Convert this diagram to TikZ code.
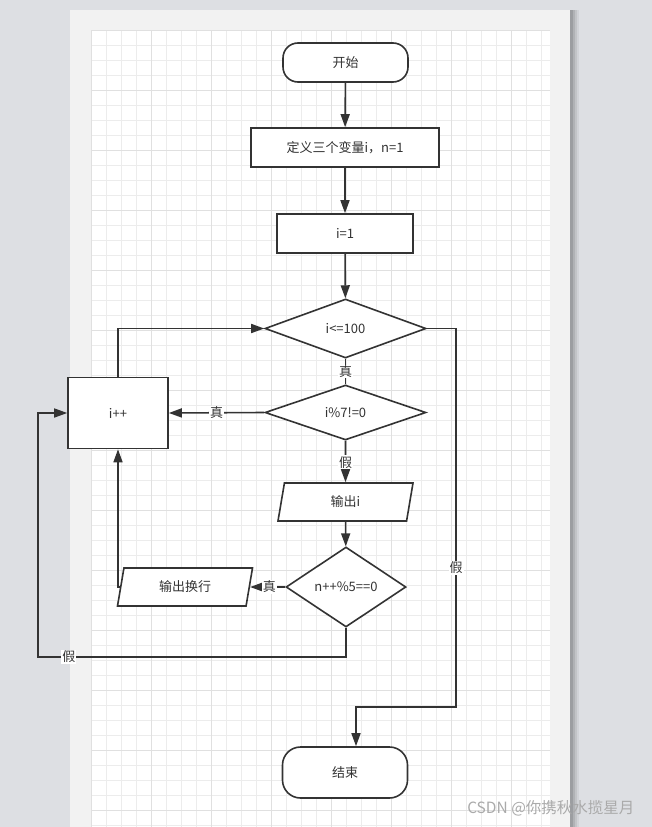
\documentclass[tikz,border=0pt]{standalone}
\usepackage{fontspec}
\setmainfont{Noto Sans CJK SC}
\usetikzlibrary{shapes.geometric,arrows.meta}
\definecolor{linegray}{RGB}{51,51,51}
\definecolor{deskgray}{RGB}{221,223,227}
\definecolor{pagegray}{RGB}{242,242,242}
\definecolor{minorgrid}{RGB}{236,236,236}
\definecolor{majorgrid}{RGB}{224,224,224}
\definecolor{markgray}{RGB}{170,170,170}
\begin{document}
\begin{tikzpicture}
[x=1pt,y=-1pt,
 every node/.append style={font=\fontsize{13}{15}\selectfont,text=linegray},
 terminal/.style={draw=linegray,line width=1.6pt,fill=white,
                  rounded corners=15pt,minimum width=125pt,minimum height=39pt},
 process/.style={draw=linegray,line width=1.6pt,fill=white,
                 minimum height=39pt},
 decision/.style={diamond,draw=linegray,line width=1.6pt,fill=white,
                  inner sep=0pt,minimum width=161pt,minimum height=57pt},
 inout/.style={trapezium,trapezium left angle=71,trapezium right angle=109,
               trapezium stretches body,draw=linegray,line width=1.6pt,
               fill=white,minimum width=122pt,minimum height=38pt},
 flow/.style={draw=linegray,line width=1.6pt,
              -{Triangle[length=13pt,width=9pt]}},
 link/.style={draw=linegray,line width=1.6pt},
 tag/.style={fill=white,inner sep=1pt}]
\useasboundingbox (0,0) rectangle (652,827);
\fill[deskgray] (0,0) rectangle (652,827);
% page and its shadow
\foreach \s/\o in {9/0.05,7/0.07,5/0.09,3/0.11}
  \fill[black,opacity=\o] (70,10) rectangle (570+\s,827);
\fill[pagegray] (70,10) rectangle (570,827);
\fill[white] (91,30) rectangle (550,827);
\foreach \gx in {91,106,...,550}
  \draw[minorgrid,line width=0.8pt] (\gx,30) -- (\gx,827);
\foreach \gy in {30,45,...,827}
  \draw[minorgrid,line width=0.8pt] (91,\gy) -- (550,\gy);
\foreach \gx in {91,151,...,550}
  \draw[majorgrid,line width=1pt] (\gx,30) -- (\gx,827);
\foreach \gy in {30,90,...,827}
  \draw[majorgrid,line width=1pt] (91,\gy) -- (550,\gy);

\node[terminal] (start) at (345.5,62.5) {开始};
\node[process,minimum width=188pt] (define) at (345,147.5) {定义三个变量i，n=1};
\node[process,minimum width=136pt] (init) at (345,233.5) {i=1};
\node[decision,minimum height=59pt] (limit) at (345.5,328.5) {i<=100};
\node[decision,minimum height=55pt] (seven) at (345.5,412.5) {i\%7!=0};
\node[inout,minimum width=135pt] (printi) at (345.5,502) {输出i};
\node[decision,minimum width=120pt,minimum height=80pt] (five) at (346,587) {n++\%5==0};
\node[inout,minimum width=135pt] (newline) at (185,587) {输出换行};
\node[process,minimum width=100pt,minimum height=71pt] (incr) at (118,413) {i++};
\node[terminal,minimum height=51pt,rounded corners=18pt] (stop) at (345,772.5) {结束};

\coordinate (rightturn) at (456,707);
\coordinate (enddrop) at (356,707);
\coordinate (fivedown) at (346,657);
\coordinate (leftturn) at (38,657);

\draw[flow] (start) -- (define);
\draw[flow] (define) -- (init);
\draw[flow] (init) -- (limit);
\draw[link] (limit.south) -- node[tag] {真} (seven.north);
\draw[flow] (seven.west) -- node[tag,pos=0.5] {真} (incr.east);
\draw[flow] (seven.south) -- node[tag,pos=0.52] {假} (printi.north);
\draw[flow] (printi) -- (five);
\draw[flow] (five.west) -- node[tag,pos=0.45] {真} (newline.east);
\draw[flow] (newline.west) -| (incr.south);
\draw[flow] (incr.north) |- (limit.west);
\draw[flow] (five.south) -- (fivedown) -- node[tag,pos=0.9] {假} (leftturn)
  |- (incr.west);
\draw[flow] (limit.east) -| (rightturn) -- (enddrop) -- (enddrop |- stop.north);
\node[tag] (nofinish) at (456,568) {假};

\node[font=\fontsize{15.5}{17}\selectfont,text=markgray,anchor=east] (mark)
  at (638,808) {CSDN @你携秋水揽星月};
\end{tikzpicture}
\end{document}
